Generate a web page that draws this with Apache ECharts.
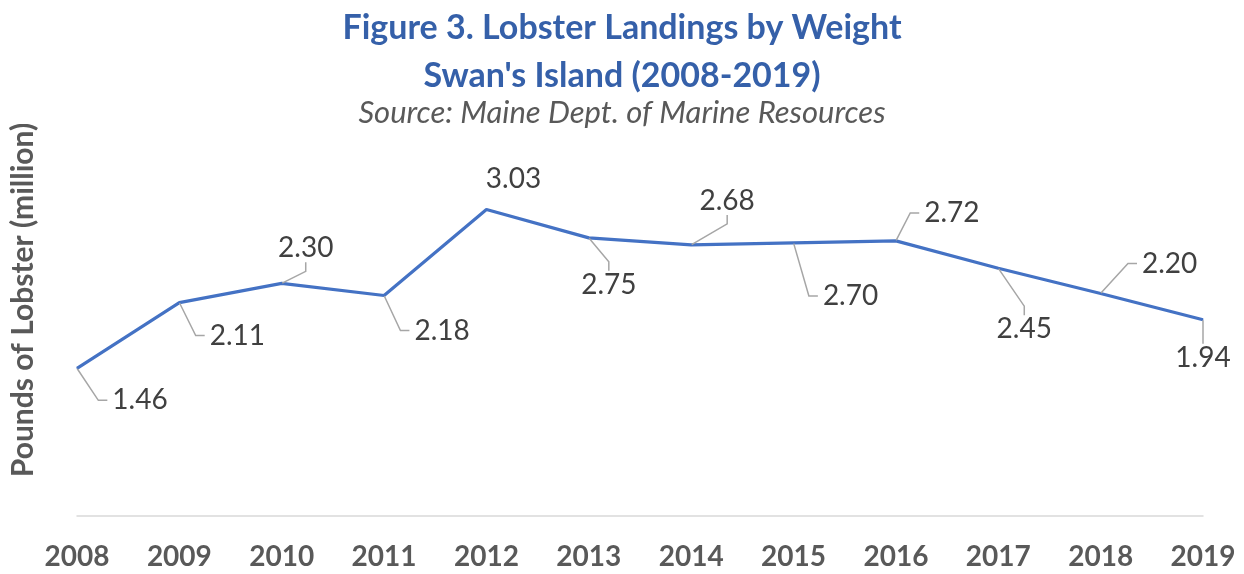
<!DOCTYPE html>
<html>
<head>
<meta charset="utf-8">
<script src="https://cdn.jsdelivr.net/npm/echarts@6/dist/echarts.min.js"></script>
<style>
  html, body { margin: 0; padding: 0; background: #fff; }
  #chart { width: 1244px; height: 574px; }
</style>
</head>
<body>
<div id="chart"></div>
<script>
// Swan's Island lobster landings, millions of pounds
const years = ['2008', '2009', '2010', '2011', '2012', '2013', '2014', '2015', '2016', '2017', '2018', '2019'];
const landings = [1.46, 2.11, 2.30, 2.18, 3.03, 2.75, 2.68, 2.70, 2.72, 2.45, 2.20, 1.94];

// Callout offsets (label centre relative to its point), in pixels
const calloutOffsets = [
  [63, 32], [58, 33], [24, -35], [58, 35], [27, -31], [20, 47],
  [36, -44], [57, 53], [56, -28], [26, 61], [69, -30], [0, 38]
];
const noLeader = [4];

const FONT = 'Lato';
const chart = echarts.init(document.getElementById('chart'), null, { renderer: 'canvas' });

chart.setOption({
  backgroundColor: '#ffffff',
  animation: false,
  title: {
    text: "Figure 3. Lobster Landings by Weight\nSwan's Island (2008-2019)",
    subtext: 'Source: Maine Dept. of Marine Resources',
    left: 'center',
    top: -1,
    itemGap: -4,
    textStyle: {
      fontFamily: FONT, fontWeight: 'bold', fontSize: 34, lineHeight: 48, color: '#3560a9'
    },
    subtextStyle: {
      fontFamily: FONT, fontStyle: 'italic', fontSize: 31, lineHeight: 34, color: '#595959'
    }
  },
  grid: { left: 77, right: 41, top: 162, bottom: 58, containLabel: false, outerBoundsMode: 'none' },
  xAxis: {
    type: 'category',
    data: years,
    boundaryGap: false,
    axisLine: { lineStyle: { color: '#d9d9d9', width: 1.5 } },
    axisTick: { show: false },
    axisLabel: {
      fontFamily: FONT, fontWeight: 'bold', fontSize: 28, color: '#595959', margin: 27
    }
  },
  yAxis: {
    type: 'value',
    min: 0,
    max: 3.5,
    name: 'Pounds of Lobster (million)',
    nameLocation: 'middle',
    nameRotate: 90,
    nameGap: 39,
    nameTextStyle: {
      fontFamily: FONT, fontWeight: 'bold', fontSize: 30, color: '#595959',
      padding: [0, 0, 0, 78]
    },
    axisLine: { show: false },
    axisTick: { show: false },
    axisLabel: { show: false },
    splitLine: { show: false }
  },
  series: [{
    type: 'line',
    data: landings.map((v, i) => noLeader.includes(i) ? { value: v, labelLine: { show: false } } : v),
    symbol: 'circle',
    symbolSize: 1,
    itemStyle: { color: '#4472c4' },
    lineStyle: { color: '#4472c4', width: 3.2 },
    label: {
      show: true,
      position: 'inside',
      formatter: p => p.value.toFixed(2),
      fontFamily: FONT,
      fontSize: 28,
      padding: [0, 5],
      backgroundColor: 'rgba(255,255,255,0)',
      color: '#404040'
    },
    labelLine: {
      show: true,
      length2: 9,
      smooth: false,
      lineStyle: { color: '#a6a6a6', width: 1.5 }
    },
    labelLayout: p => ({ dx: calloutOffsets[p.dataIndex][0], dy: calloutOffsets[p.dataIndex][1] })
  }]
});
</script>
</body>
</html>
